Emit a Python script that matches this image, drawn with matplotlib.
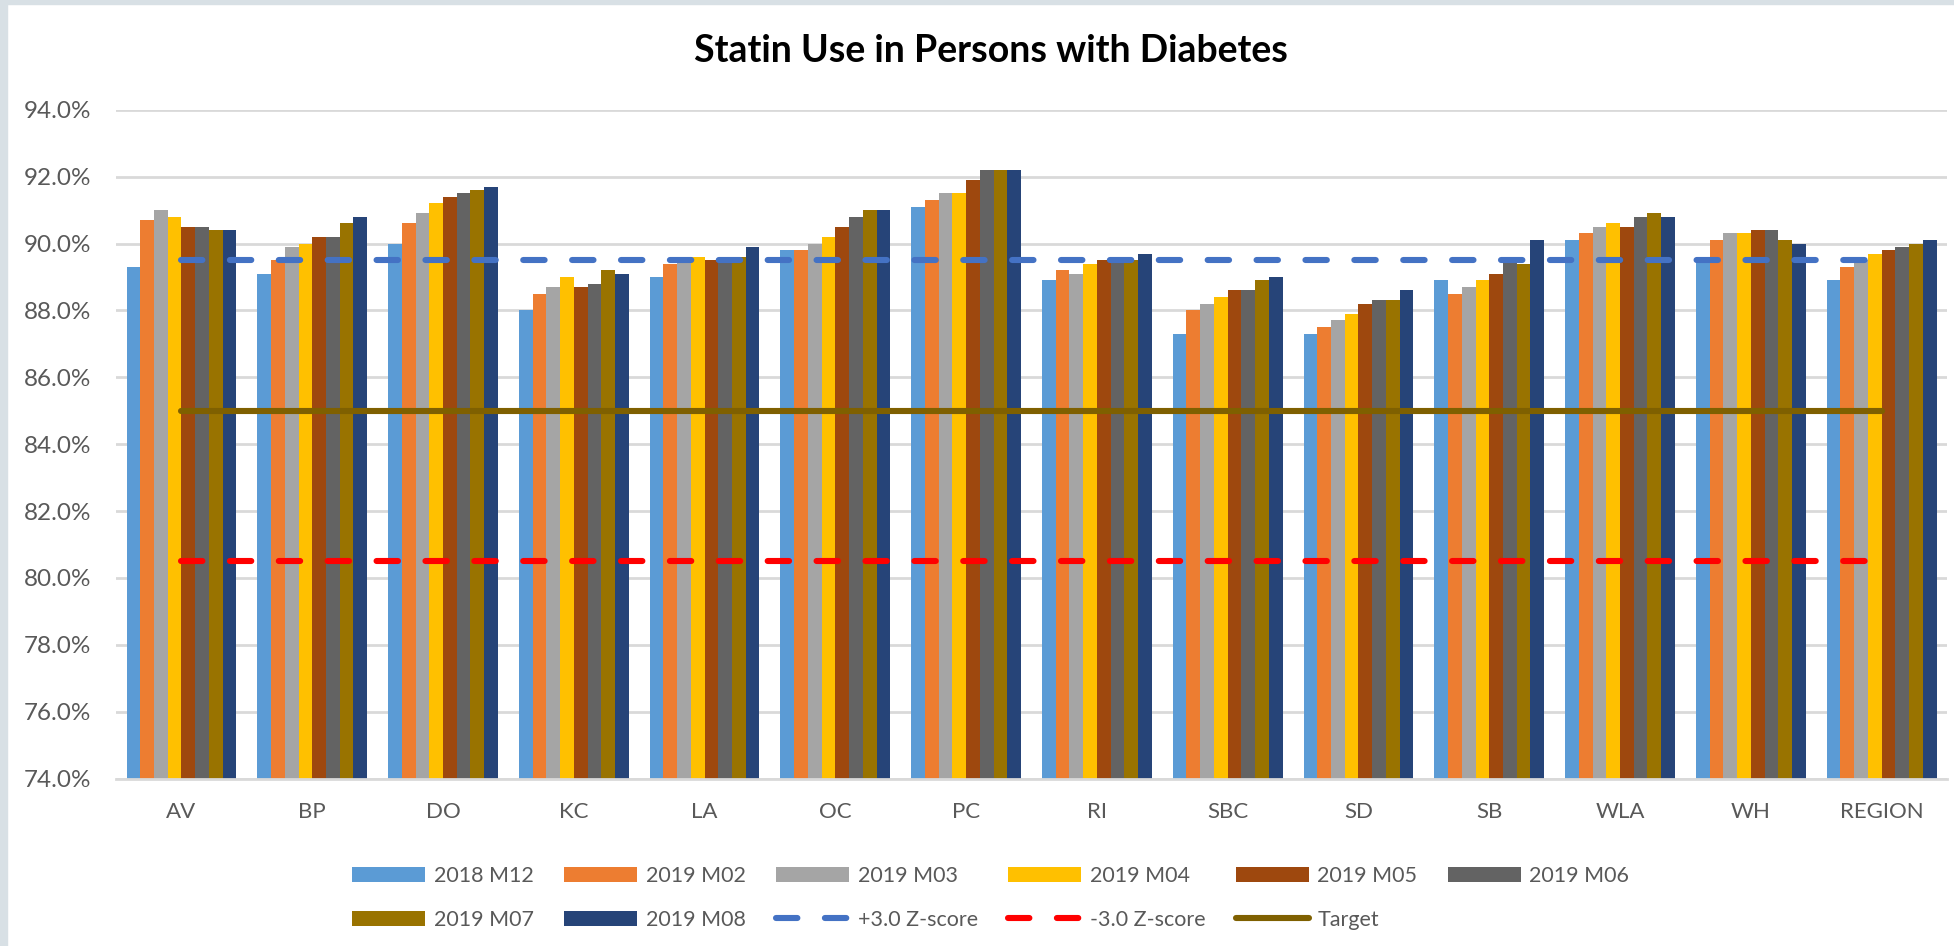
import matplotlib.pyplot as plt
from matplotlib.ticker import FuncFormatter
from matplotlib.patches import Rectangle
import numpy as np

# Datos
sites = ["AV", "BP", "DO", "KC", "LA", "OC", "PC", "RI", "SBC", "SD", "SB", "WLA", "WH", "REGION"]
months = ["2018 M12", "2019 M02", "2019 M03", "2019 M04", "2019 M05", "2019 M06", "2019 M07", "2019 M08"]

m2018_12 = [89.3, 89.1, 90.0, 88.0, 89.0, 89.8, 91.1, 88.9, 87.3, 87.3, 88.9, 90.1, 89.5, 88.9]
m2019_02 = [90.7, 89.5, 90.6, 88.5, 89.4, 89.8, 91.3, 89.2, 88.0, 87.5, 88.5, 90.3, 90.1, 89.3]
m2019_03 = [91.0, 89.9, 90.9, 88.7, 89.5, 90.0, 91.5, 89.1, 88.2, 87.7, 88.7, 90.5, 90.3, 89.5]
m2019_04 = [90.8, 90.0, 91.2, 89.0, 89.6, 90.2, 91.5, 89.4, 88.4, 87.9, 88.9, 90.6, 90.3, 89.7]
m2019_05 = [90.5, 90.2, 91.4, 88.7, 89.5, 90.5, 91.9, 89.5, 88.6, 88.2, 89.1, 90.5, 90.4, 89.8]
m2019_06 = [90.5, 90.2, 91.5, 88.8, 89.5, 90.8, 92.2, 89.5, 88.6, 88.3, 89.5, 90.8, 90.4, 89.9]
m2019_07 = [90.4, 90.6, 91.6, 89.2, 89.6, 91.0, 92.2, 89.5, 88.9, 88.3, 89.4, 90.9, 90.1, 90.0]
m2019_08 = [90.4, 90.8, 91.7, 89.1, 89.9, 91.0, 92.2, 89.7, 89.0, 88.6, 90.1, 90.8, 90.0, 90.1]

z_plus = [89.5] * len(sites)
z_minus = [80.5] * len(sites)
target = [85.0] * len(sites)

series = [m2018_12, m2019_02, m2019_03, m2019_04, m2019_05, m2019_06, m2019_07, m2019_08]
colores = ["#5B9BD5", "#ED7D31", "#A5A5A5", "#FFC000", "#9E480E", "#636363", "#997300", "#264478"]

plt.rcParams['font.family'] = ['Lato', 'DejaVu Sans']

fig = plt.figure(figsize=(19.54, 9.46), dpi=100)
ax = fig.add_axes([0.0594, 0.177, 0.937, 0.707])

# marco gris-azulado de la captura
fig.patches.append(Rectangle((0, 0), 7 / 1954, 1, transform=fig.transFigure, color="#D8E0E5", zorder=0))
fig.patches.append(Rectangle((0, 1 - 4 / 946), 1, 4 / 946, transform=fig.transFigure, color="#D8E0E5", zorder=0))

x = np.arange(len(sites))
ancho = 0.84 / len(series)
barras = []
for i, (vals, c) in enumerate(zip(series, colores)):
	b = ax.bar(x - 0.42 + ancho * (i + 0.5), vals, width=ancho, color=c, label=months[i], zorder=2)
	barras.append(b)

lz1, = ax.plot(x, z_plus, color="#4472C4", lw=4.4, dashes=(3.5, 4.5), dash_capstyle="round", label="+3.0 Z-score", zorder=3)
lz2, = ax.plot(x, z_minus, color="#FF0000", lw=4.4, dashes=(3.5, 4.5), dash_capstyle="round", label="-3.0 Z-score", zorder=3)
lt, = ax.plot(x, target, color="#7F6000", lw=4.4, solid_capstyle="round", label="Target", zorder=3)

ax.set_ylim(74, 94)
ax.set_xlim(-0.5, len(sites) - 0.5)
ax.set_yticks(np.arange(74, 94.1, 2))
ax.yaxis.set_major_formatter(FuncFormatter(lambda v, p: "%.1f%%" % v))
ax.set_xticks(x)
ax.set_xticklabels(sites)
ax.tick_params(axis="both", length=0, colors="#595959")
ax.tick_params(axis="x", pad=17, labelsize=16)
ax.tick_params(axis="y", pad=18, labelsize=17.5)
ax.grid(axis="y", color="#D9D9D9", lw=2, zorder=0)
ax.set_axisbelow(True)
for s in ["top", "right", "left"]:
	ax.spines[s].set_visible(False)
ax.spines["bottom"].set_color("#D9D9D9")
ax.spines["bottom"].set_linewidth(2)

fig.text(0.507, 0.946, "Statin Use in Persons with Diabetes", ha="center", va="center",
	fontsize=27, fontweight="bold", color="black")

# Leyenda en orden por filas
h = barras + [lz1, lz2, lt]
labs = months + ["+3.0 Z-score", "-3.0 Z-score", "Target"]
orden = [0, 6, 1, 7, 2, 8, 3, 9, 4, 10, 5]
leg = fig.legend([h[i] for i in orden], [labs[i] for i in orden], ncol=6, loc="center",
	bbox_to_anchor=(0.507, 0.051), frameon=False, fontsize=15.5, handlelength=3.4,
	handleheight=0.7, handletextpad=0.4, columnspacing=1.4, labelspacing=1.1)
for t in leg.get_texts():
	t.set_color("#595959")

fig.savefig("out.png", dpi=100)
